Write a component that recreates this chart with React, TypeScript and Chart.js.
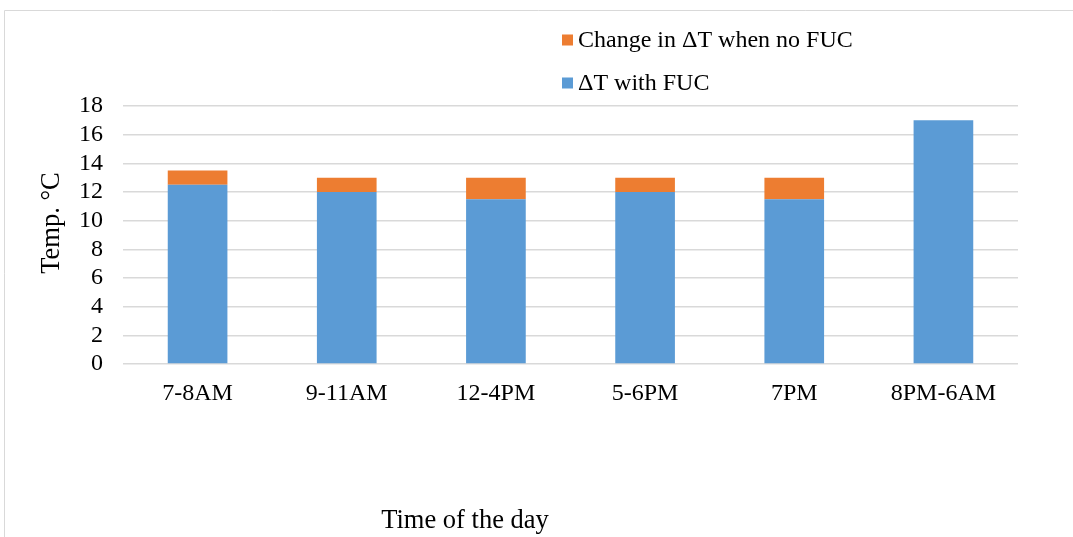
import React, { useEffect, useRef } from "react";
import { Chart, registerables } from "chart.js";

Chart.register(...registerables);

const categories = ["7-8AM", "9-11AM", "12-4PM", "5-6PM", "7PM", "8PM-6AM"];
const withFuc = [12.5, 12, 11.5, 12, 11.5, 17];
const changeNoFuc = [1, 1, 1.5, 1, 1.5, 0];
const yTicks = [0, 2, 4, 6, 8, 10, 12, 14, 16, 18];

const FONT = "'Liberation Serif', 'Times New Roman', serif";
const BLUE = "#5B9BD5";
const ORANGE = "#ED7D31";
const GRID = "#d9d9d9";

// Frame, stacked legend and axis titles drawn onto the canvas
const decorations = {
  id: "decorations",
  beforeDraw(chart: Chart) {
    const ctx = chart.ctx;
    ctx.save();
    ctx.strokeStyle = GRID;
    ctx.lineWidth = 1;
    ctx.beginPath();
    ctx.moveTo(4.5, chart.height);
    ctx.lineTo(4.5, 10.5);
    ctx.lineTo(chart.width, 10.5);
    ctx.stroke();
    ctx.restore();
  },
  afterDraw(chart: Chart) {
    const ctx = chart.ctx;
    ctx.save();
    ctx.font = `24px ${FONT}`;
    ctx.textBaseline = "middle";
    ctx.textAlign = "left";
    const items = [...chart.data.datasets].reverse();
    items.forEach((ds, i) => {
      const cy = 40 + i * 43;
      ctx.fillStyle = ds.backgroundColor as string;
      ctx.fillRect(562, cy - 5.5, 11, 11);
      ctx.fillStyle = "#000";
      ctx.fillText(ds.label as string, 578, cy + 1);
    });

    ctx.font = `26.5px ${FONT}`;
    ctx.textAlign = "center";
    ctx.fillText("Time of the day", 465, 521);

    ctx.translate(52, 223);
    ctx.rotate(-Math.PI / 2);
    ctx.fillText("Temp. \u00B0C", 0, 0);
    ctx.restore();
  },
};

export default function App() {
  const canvasRef = useRef<HTMLCanvasElement | null>(null);

  useEffect(() => {
    document.body.style.margin = "0";
    const canvas = canvasRef.current;
    if (!canvas) return;
    const chart = new Chart(canvas, {
      type: "bar",
      data: {
        labels: categories,
        datasets: [
          {
            label: "\u0394T with FUC",
            data: withFuc,
            backgroundColor: BLUE,
            borderWidth: 0,
            barPercentage: 0.4,
            categoryPercentage: 1,
          },
          {
            label: "Change in \u0394T when no FUC",
            data: changeNoFuc,
            backgroundColor: ORANGE,
            borderWidth: 0,
            barPercentage: 0.4,
            categoryPercentage: 1,
          },
        ],
      },
      options: {
        animation: false,
        responsive: false,
        maintainAspectRatio: false,
        layout: { padding: { left: 0, right: 55, top: 106, bottom: 0 } },
        plugins: {
          legend: { display: false },
          tooltip: { enabled: false },
          title: { display: false },
        },
        scales: {
          x: {
            stacked: true,
            grid: { display: false, drawTicks: false },
            border: { display: false },
            ticks: {
              color: "#000",
              font: { family: FONT, size: 24 },
              padding: 15,
              maxRotation: 0,
              autoSkip: false,
            },
            afterFit(scale: any) {
              scale.height = 173;
            },
          },
          y: {
            stacked: true,
            min: 0,
            max: 18,
            afterBuildTicks(scale: any) {
              scale.ticks = yTicks.map((v) => ({ value: v }));
            },
            grid: { color: GRID, lineWidth: 1.5, drawTicks: false },
            border: { display: false },
            ticks: {
              color: "#000",
              font: { family: FONT, size: 24 },
              padding: 20,
              autoSkip: false,
              stepSize: 2,
            },
            afterFit(scale: any) {
              scale.width = 123;
            },
          },
        },
      },
      plugins: [decorations],
    });
    return () => chart.destroy();
  }, []);

  return (
    <div style={{ position: "absolute", left: 0, top: 0, width: 1073, height: 537 }}>
      <canvas ref={canvasRef} width={1073} height={537} style={{ display: "block" }} />
    </div>
  );
}
